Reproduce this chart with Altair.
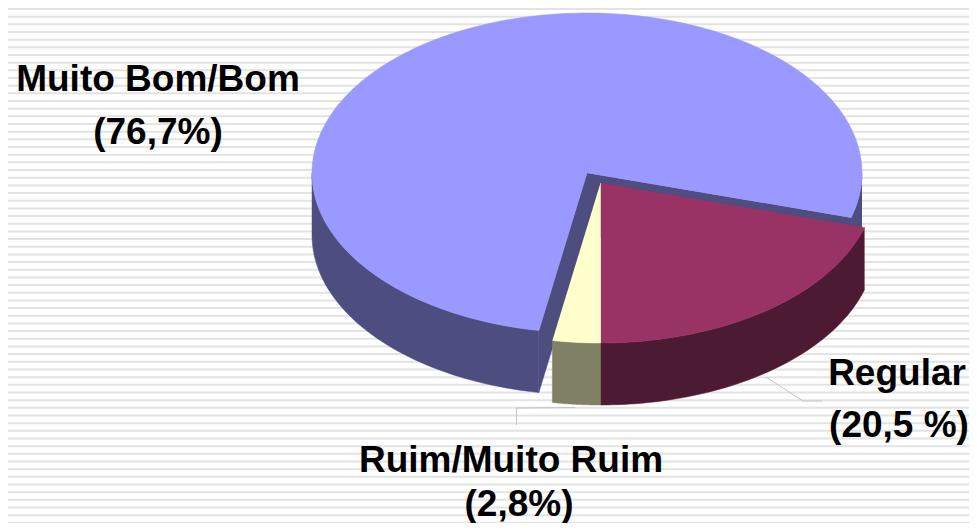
import numpy as np
import pandas as pd
import altair as alt

# Chart values
shares = [76.7, 20.5, 2.8]
labels = [["Muito Bom/Bom", "(76,7%)"], ["Regular", "(20,5 %)"], ["Ruim/Muito Ruim", "(2,8%)"]]
top_colors = ["#9999ff", "#993366", "#ffffcc"]
side_colors = ["#4d4d80", "#4d1a33", "#808066"]
label_x = [[158, 158], [897, 899], [511, 519]]
label_y = [[91, 144], [385, 437], [472, 516]]

# Pie geometry (page pixels)
RX, RY, DEPTH = 275, 160, 62
BLUE_C = (587, 173)
REST_C = (600.5, 183)
W, H = 961, 515
X0, Y0 = 8, 8
STRIPE_START, STRIPE_STEP = 1.3, 7.67
STRIPE_COUNT = 69

a_reg = shares[1] * 3.6
a_rui = shares[2] * 3.6
t_reg = 90 - a_reg   # regular runs from here clockwise-positive to 90 degrees
t_rui = 90 + a_rui


def arc(c, t0, t1, dy=0, n=60):
    ts = np.radians(np.linspace(t0, t1, n))
    return [(c[0] + RX * np.cos(t), c[1] + RY * np.sin(t) + dy) for t in ts]


def wall(c, t0, t1):
    return arc(c, t0, t1) + arc(c, t1, t0, DEPTH)


def cut(c, t):
    e = arc(c, t, t, n=1)[0]
    return [c, e, (e[0], e[1] + DEPTH), (c[0], c[1] + DEPTH)]


pieces = [
    (wall(BLUE_C, t_rui, 180), side_colors[0]),
    (wall(BLUE_C, 0, t_reg), side_colors[0]),
    (cut(BLUE_C, t_reg), side_colors[0]),
    (cut(BLUE_C, t_rui), side_colors[0]),
    ([BLUE_C] + arc(BLUE_C, t_rui, 360 + t_reg, n=240), top_colors[0]),
    (wall(REST_C, t_reg, 90), side_colors[1]),
    (wall(REST_C, 90, t_rui), side_colors[2]),
    ([REST_C] + arc(REST_C, t_reg, 90), top_colors[1]),
    ([REST_C] + arc(REST_C, 90, t_rui, n=12), top_colors[2]),
]

xs = alt.X("x:Q", axis=None, scale=alt.Scale(domain=[X0, X0 + W], nice=False, zero=False))
ys = alt.Y("y:Q", axis=None, scale=alt.Scale(domain=[Y0 + H, Y0], nice=False, zero=False))

layers = []

# striped background
stripe_y = [STRIPE_START + STRIPE_STEP * i for i in range(STRIPE_COUNT)]
stripe_y = [y for y in stripe_y if y >= Y0 and y <= Y0 + H]
stripes = pd.DataFrame({"y": stripe_y, "x": [X0] * len(stripe_y), "x2": [X0 + W] * len(stripe_y)})
layers.append(alt.Chart(stripes).mark_rule(color="#e3e3e3", strokeWidth=2).encode(x=xs, x2="x2:Q", y=ys))

# leader lines
for pts in ([(766, 377), (803, 401), (822, 401)], [(516.5, 425), (516.5, 408), (575, 407.5)]):
    df = pd.DataFrame(pts, columns=["x", "y"]).assign(o=range(len(pts)))
    layers.append(alt.Chart(df).mark_line(color="#c4c4c4", strokeWidth=1).encode(x=xs, y=ys, order="o:Q"))

# pie pieces
for pts, col in pieces:
    df = pd.DataFrame(pts, columns=["x", "y"]).assign(o=range(len(pts)))
    layers.append(alt.Chart(df).mark_line(fill=col, stroke=col, strokeWidth=0.5, clip=False)
                  .encode(x=xs, y=ys, order="o:Q"))

# labels
rows = []
for lab, lxs, lys in zip(labels, label_x, label_y):
    for t, x, y in zip(lab, lxs, lys):
        rows.append({"t": t, "x": x, "y": y})
layers.append(alt.Chart(pd.DataFrame(rows)).mark_text(font="Liberation Sans", fontWeight="bold", fontSize=37,
                                                      color="#000000", align="center", baseline="alphabetic")
              .encode(x=xs, y=ys, text="t:N"))

chart = alt.layer(*layers).properties(
    width=W, height=H, padding=0, background="#ffffff",
    autosize=alt.AutoSizeParams(type="none")
).configure_view(stroke=None)

chart.save("out.html", embed_options={"renderer": "svg", "actions": False})
